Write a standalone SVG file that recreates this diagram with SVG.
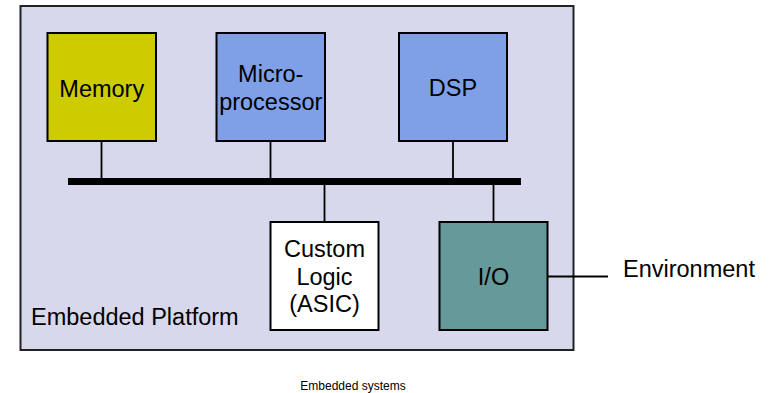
<svg xmlns="http://www.w3.org/2000/svg" width="773" height="393" viewBox="0 0 773 393">
  <style>
    .box { stroke: #000; stroke-width: 2; }
    .lbl { font-family: "Liberation Sans", Arial, sans-serif; font-size: 23.5px; fill: #000; text-anchor: middle; }
    .start { text-anchor: start; }
    .wire { stroke: #000; stroke-width: 1.8; fill: none; }
  </style>
  <rect width="773" height="393" fill="#fff"/>

  <!-- platform enclosure -->
  <g id="platform">
    <rect x="20.5" y="6" width="553" height="344" fill="#d8d8ec" stroke="#222" stroke-width="2"/>
    <text class="lbl start" x="31" y="325">Embedded Platform</text>
  </g>

  <!-- connectors: system bus and taps -->
  <g id="connectors">
    <rect x="68" y="178" width="453" height="7" fill="#000"/>
    <line class="wire" x1="101.5" y1="141" x2="101.5" y2="178"/>
    <line class="wire" x1="270.5" y1="141" x2="270.5" y2="178"/>
    <line class="wire" x1="453" y1="141" x2="453" y2="178"/>
    <line class="wire" x1="324.5" y1="185" x2="324.5" y2="222"/>
    <line class="wire" x1="493.5" y1="185" x2="493.5" y2="222"/>
    <line class="wire" x1="547" y1="276.5" x2="608" y2="276.5"/>
  </g>

  <g id="memory">
    <rect class="box" x="47.5" y="33" width="108.5" height="108" fill="#cccc00"/>
    <text class="lbl" x="101.75" y="96.5">Memory</text>
  </g>

  <g id="microprocessor">
    <rect class="box" x="216.5" y="33" width="108.5" height="108" fill="#7f9fe6"/>
    <text class="lbl" x="270.75" y="81.5">Micro-</text>
    <text class="lbl" x="270.75" y="109.5">processor</text>
  </g>

  <g id="dsp">
    <rect class="box" x="399" y="33" width="108" height="108" fill="#7f9fe6"/>
    <text class="lbl" x="453" y="96">DSP</text>
  </g>

  <g id="custom-logic">
    <rect class="box" x="270.5" y="222" width="108" height="108" fill="#ffffff"/>
    <text class="lbl" x="324.5" y="256.5">Custom</text>
    <text class="lbl" x="324.5" y="284.5">Logic</text>
    <text class="lbl" x="324.5" y="312">(ASIC)</text>
  </g>

  <g id="io">
    <rect class="box" x="439.5" y="222" width="108" height="108" fill="#669999"/>
    <text class="lbl" x="493.5" y="285">I/O</text>
  </g>

  <g id="environment">
    <text class="lbl start" x="623" y="277">Environment</text>
  </g>

  <text x="353" y="390" font-family="Liberation Sans, Arial, sans-serif" font-size="12" text-anchor="middle" fill="#000">Embedded systems</text>
</svg>
